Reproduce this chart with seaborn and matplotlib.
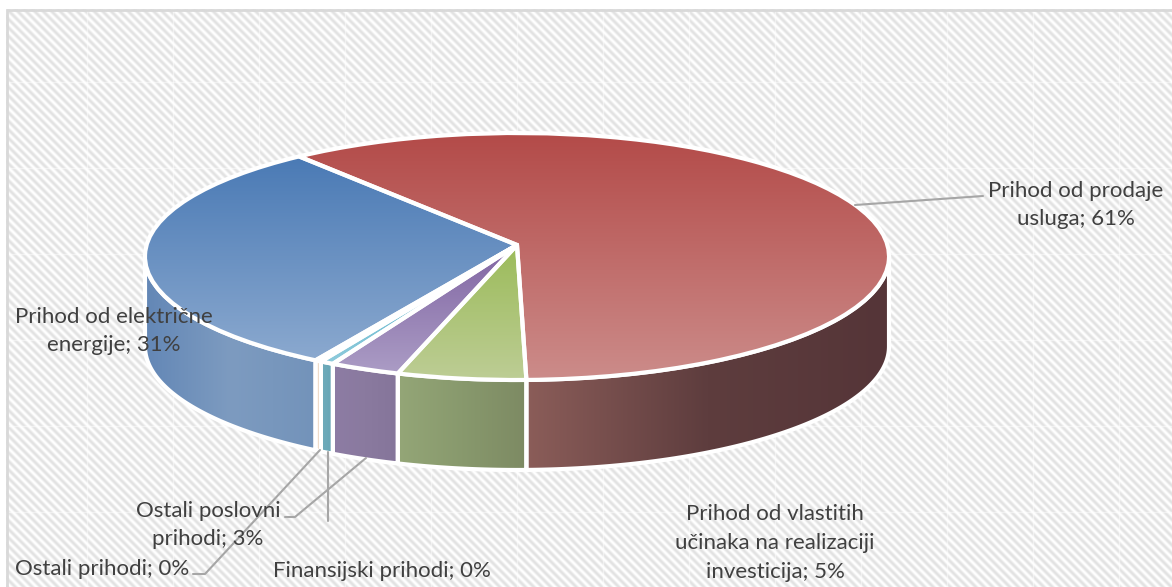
import numpy as np
import matplotlib
matplotlib.use("Agg")
import matplotlib.pyplot as plt
import seaborn as sns
from matplotlib.patches import Polygon, Rectangle
from matplotlib.transforms import Transform

# clockwise from the blue slice
names = [
    "Prihod od električne\nenergije",
    "Prihod od prodaje\nusluga",
    "Prihod od vlastitih\nučinaka na realizaciji\ninvesticija",
    "Ostali poslovni\nprihodi",
    "Finansijski prihodi",
    "Ostali prihodi",
]
shares = [30.8, 60.5, 5.1, 2.8, 0.55, 0.25]
shown_pct = [31, 61, 5, 3, 0, 0]

top_colors = [
    ["#4a7ab5", "#8ba9cf"],
    ["#b34a48", "#cc8c8a"],
    ["#9bbb59", "#bdcd95"],
    ["#8064a2", "#ab9cc5"],
    ["#4bacc6", "#8fcbdc"],
    ["#f79646", "#f9c08e"],
]
wall_colors = [
    ["#6387b6", "#7d9bc0", "#7393ba"],
    ["#8b5d59", "#5e3d3e", "#553538"],
    ["#94a677", "#88996d", "#7d8a63"],
    ["#8d7ca4", "#8a7a9f", "#85759a"],
    ["#6fabba", "#6aa8b8", "#66a4b4"],
    ["#ecd4bc", "#e6ccb0", "#e0c4a4"],
]

CX, CY = 517, 245
SX = 370.4
PA, PC = -99.6, 0.0931
DEPTH = 90
# angles where the disc outline turns away from the viewer
VIS_LO, VIS_HI = 185.3, 354.7


class Perspective(Transform):
    # unit circle -> picture pixels, tilted disc seen from the front
    input_dims = 2
    output_dims = 2
    has_inverse = False

    def transform_non_affine(self, xy):
        xy = np.asarray(xy, dtype=float)
        u, v = xy[:, 0], xy[:, 1]
        w = 1 + PC * v
        return np.column_stack([CX + SX * u / w, (PA * v + CY) / w])


persp = Perspective()

sns.set_theme(style="white")
plt.rcParams["font.family"] = ["Lato", "DejaVu Sans"]

fig = plt.figure(figsize=(11.72, 5.87), dpi=100)
ax = fig.add_axes([0, 0, 1, 1])

wedges, _ = ax.pie(
    shares,
    colors=[c[0] for c in top_colors],
    startangle=240,
    counterclock=False,
    wedgeprops={"linewidth": 3, "edgecolor": "white", "joinstyle": "round"},
)

# striped background
yy, xx = np.mgrid[0:587, 0:1172]
stripes = 0.5 + 0.5 * np.sin(2 * np.pi * (xx - yy) / 8.5)
ax.imshow(
    stripes,
    cmap=sns.blend_palette(["#e2e2e2", "#ffffff"], as_cmap=True),
    extent=(0, 1172, 587, 0),
    aspect="auto",
    zorder=0,
    interpolation="bilinear",
)
for k in range(14):
    ax.axvline(87 + 86 * k, color="white", lw=1, alpha=0.5, zorder=0.5)
for k in range(7):
    ax.axhline(82 + 86 * k, color="white", lw=1, alpha=0.5, zorder=0.5)
ax.add_patch(Rectangle((0, 0), 1172, 9, color="white", lw=0, zorder=0.6))
ax.add_patch(Rectangle((0, 0), 6, 587, color="white", lw=0, zorder=0.6))
ax.plot([7, 7, 1172], [587, 9.5, 9.5], color="#d9d9d9", lw=2, zorder=0.7)

for wedge, tops, walls in zip(wedges, top_colors, wall_colors):
    # side wall, only the part that faces the viewer
    for offset in (0, 360):
        lo = max(wedge.theta1 + offset, VIS_LO)
        hi = min(wedge.theta2 + offset, VIS_HI)
        if hi <= lo:
            continue
        th = np.radians(np.linspace(lo, hi, 120))
        ring = persp.transform(np.column_stack([np.cos(th), np.sin(th)]))
        low = ring + [0, DEPTH]
        wall = Polygon(
            np.vstack([ring, low[::-1]]),
            closed=True,
            facecolor="none",
            edgecolor="white",
            linewidth=3,
            joinstyle="round",
            zorder=2.5,
        )
        ax.add_patch(wall)
        img = ax.imshow(
            np.linspace(0, 1, 256)[None, :],
            cmap=sns.blend_palette(walls, as_cmap=True),
            extent=(ring[:, 0].min(), ring[:, 0].max(), 587, 0),
            aspect="auto",
            zorder=2,
        )
        img.set_clip_path(wall)

    # top face with its vertical gradient
    wedge.set_transform(persp + ax.transData)
    wedge.set_facecolor("none")
    wedge.set_zorder(4)
    verts = persp.transform(wedge.get_path().vertices)
    img = ax.imshow(
        np.linspace(0, 1, 256)[:, None],
        cmap=sns.blend_palette(tops, as_cmap=True),
        extent=(0, 1172, verts[:, 1].max(), verts[:, 1].min()),
        aspect="auto",
        zorder=3,
    )
    img.set_clip_path(wedge)

ax.set_aspect("auto")
ax.set_xlim(0, 1172)
ax.set_ylim(587, 0)
ax.axis("off")

# leader lines
leader = {"color": "#a6a6a6", "lw": 1.5, "zorder": 5}
ax.plot([855, 983], [205, 196], **leader)
ax.plot([366, 295, 285], [458, 517, 517], **leader)
ax.plot([328, 328], [452, 521], **leader)
ax.plot([320, 205, 193], [450, 574, 574], **leader)

labels = [f"{n}; {p}%" for n, p in zip(names, shown_pct)]
label_pos = [
    (114, 331),
    (1076, 205),
    (775, 543),
    (208, 525),
    (382, 571),
    (102, 569),
]
for text, (x, y) in zip(labels, label_pos):
    ax.text(x, y, text, ha="center", va="center", fontsize=16, color="#404040",
            linespacing=1.55, zorder=6)

fig.savefig("out.png", dpi=100)
